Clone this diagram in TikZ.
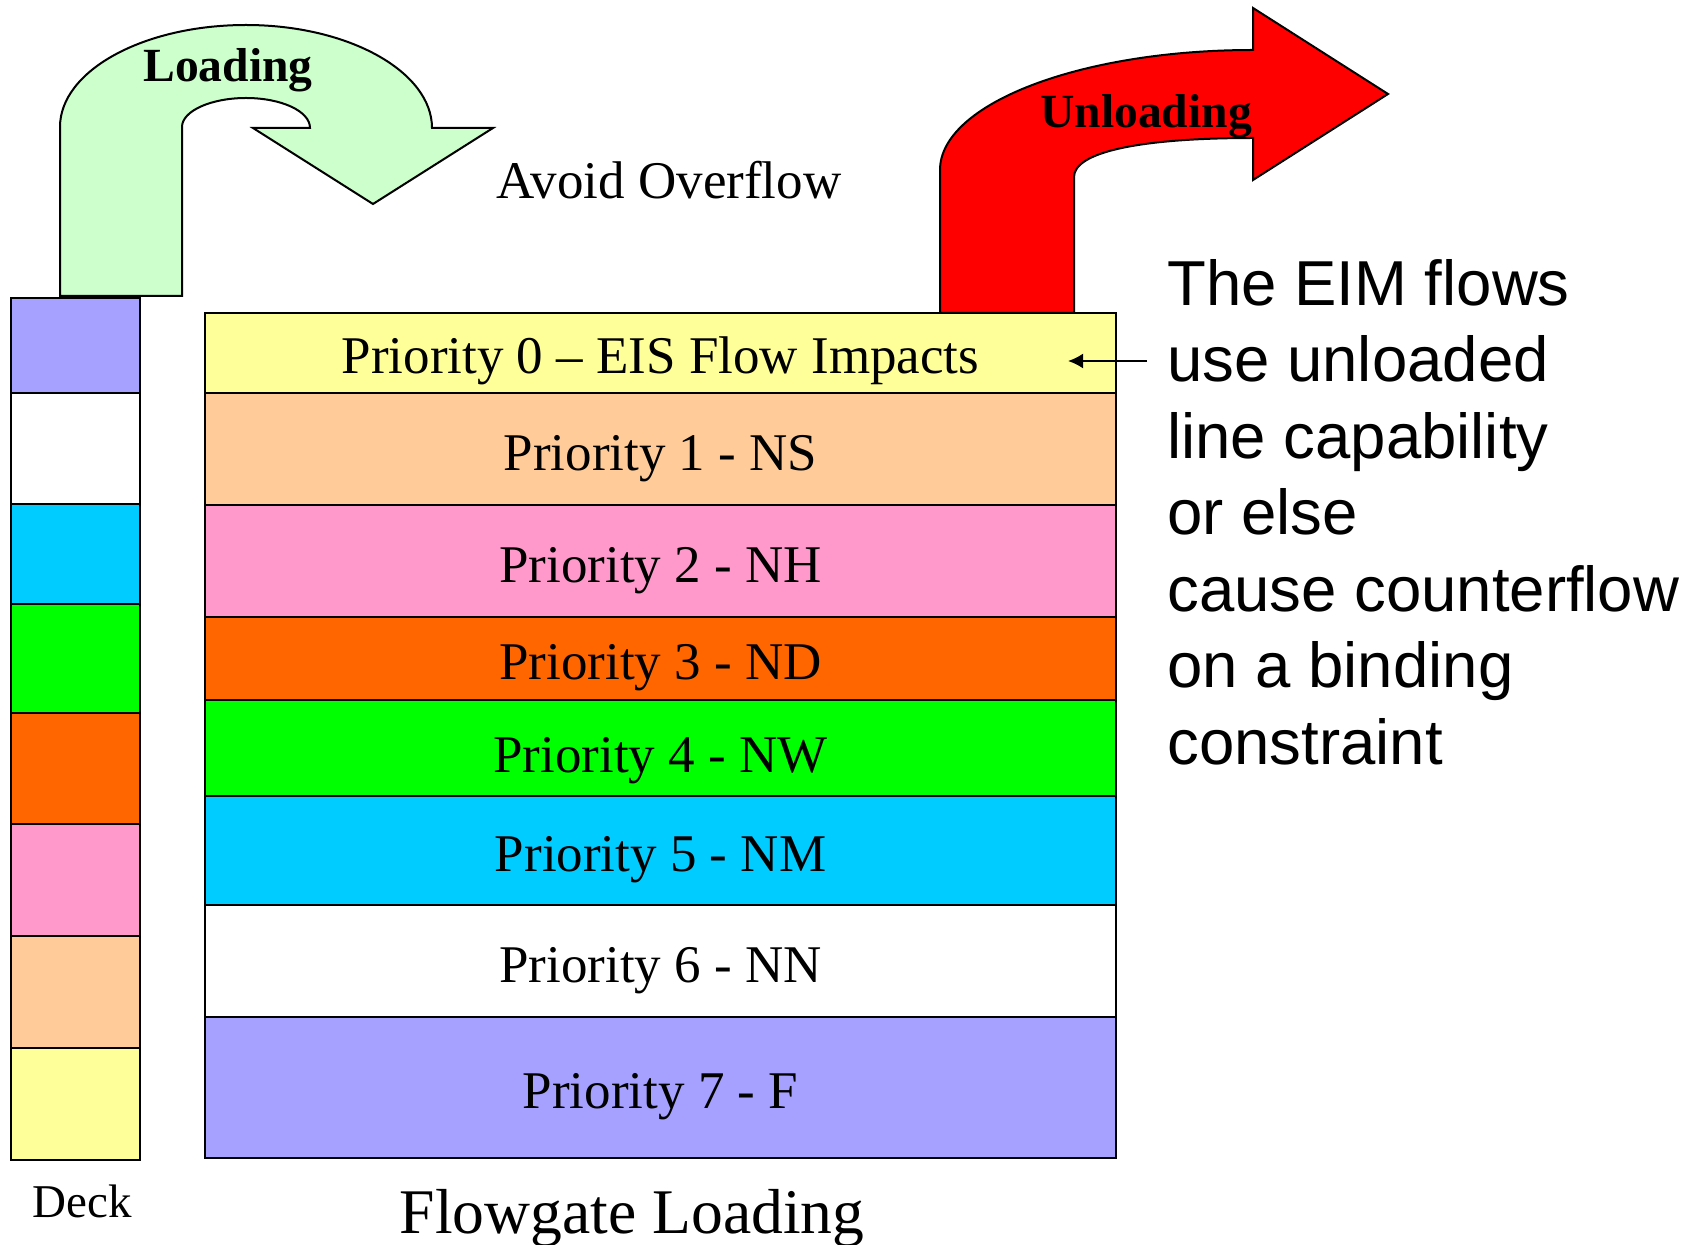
\documentclass[tikz,border=0pt]{standalone}
\usepackage{fontspec}
\setmainfont{Liberation Serif}
\newfontfamily\notefont{Liberation Sans}
\usetikzlibrary{positioning}
\usetikzlibrary{arrows.meta}

\definecolor{pyellow}{HTML}{FFFF99}
\definecolor{ppeach}{HTML}{FFCC99}
\definecolor{ppink}{HTML}{FF99CC}
\definecolor{porange}{HTML}{FF6600}
\definecolor{pgreen}{HTML}{00FF00}
\definecolor{pcyan}{HTML}{00CCFF}
\definecolor{plavender}{HTML}{A6A0FF}
\definecolor{loadgreen}{HTML}{CCFFCC}

\begin{document}
\begin{tikzpicture}[x=0.5pt, y=-0.5pt, >={Latex[length=7.5pt,width=7.5pt]},
  row/.style={draw, line width=1pt, minimum width=455.5pt, inner sep=0pt, outer sep=0pt, text height=21pt, text depth=0pt, font=\fontsize{26.5}{30}\selectfont},
  cell/.style={draw, line width=1pt, minimum width=64.5pt, inner sep=0pt, outer sep=0pt}]
\useasboundingbox (0,0) rectangle (1689,1245);

\draw[fill=loadgreen, line width=1pt] (60,296) -- (60,127) .. controls (60,71) and (143,25) .. (246,25) .. controls (349,25) and (432,72) .. (432,128) -- (493,128) -- (373,204) -- (253,128) -- (310,128) .. controls (310,111) and (281,98) .. (246,98) .. controls (211,98) and (182,111) .. (182,127) -- (182,296) -- cycle;
\draw[fill=red, line width=1pt] (940,313) -- (940,170) .. controls (940,104) and (1080,50) .. (1253,50) -- (1253,8) -- (1388,94) -- (1253,180) -- (1253,138) .. controls (1140,138) and (1074,152) .. (1074,177) -- (1074,313) -- cycle;

\node[name=p0, row, fill=pyellow, minimum height=40pt, anchor=north] at (660.5,313) {Priority 0 – EIS Flow Impacts};
\node[name=p1, row, fill=ppeach, minimum height=56pt, below=0pt of p0] {Priority 1 - NS};
\node[name=p2, row, fill=ppink, minimum height=56pt, below=0pt of p1] {Priority 2 - NH};
\node[name=p3, row, fill=porange, minimum height=41.5pt, below=0pt of p2] {Priority 3 - ND};
\node[name=p4, row, fill=pgreen, minimum height=48pt, below=0pt of p3, text height=24pt] {Priority 4 - NW};
\node[name=p5, row, fill=pcyan, minimum height=54.5pt, below=0pt of p4] {Priority 5 - NM};
\node[name=p6, row, fill=white, minimum height=56pt, below=0pt of p5] {Priority 6 - NN};
\node[name=p7, row, fill=plavender, minimum height=70.5pt, below=0pt of p6] {Priority 7 - F};

\node[name=d1, cell, fill=plavender, minimum height=47.5pt, anchor=north] at (75.5,298) {};
\node[name=d2, cell, fill=white, minimum height=55.5pt, below=0pt of d1] {};
\node[name=d3, cell, fill=pcyan, minimum height=50pt, below=0pt of d2] {};
\node[name=d4, cell, fill=pgreen, minimum height=54.5pt, below=0pt of d3] {};
\node[name=d5, cell, fill=porange, minimum height=55.5pt, below=0pt of d4] {};
\node[name=d6, cell, fill=ppink, minimum height=56pt, below=0pt of d5] {};
\node[name=d7, cell, fill=ppeach, minimum height=56pt, below=0pt of d6] {};
\node[name=d8, cell, fill=pyellow, minimum height=56pt, below=0pt of d7] {};

\node[name=deck, font=\fontsize{23.5}{28}\selectfont, anchor=base] at (82,1217) {Deck};
\node[name=flowgate, font=\fontsize{31.8}{38}\selectfont, anchor=base] at (632,1233) {Flowgate Loading};
\node[name=avoid, font=\fontsize{26.5}{30}\selectfont, anchor=base] at (669,199) {Avoid Overflow};
\node[name=loading, font=\bfseries\fontsize{23.8}{28}\selectfont, anchor=base] at (228,82) {Loading};
\node[name=unloading, font=\bfseries\fontsize{23.8}{28}\selectfont, anchor=base] at (1146,128) {Unloading};
\node[name=note, font=\notefont\fontsize{31.75}{38.25}\selectfont, align=left, anchor=north west, inner sep=0pt] at (1167,259) {The EIM flows\\use unloaded\\line capability\\or else\\cause counterflow\\on a binding\\constraint};

\coordinate (notetail) at (1147,361);
\coordinate (notetip) at (1068,361);
\draw[->, line width=1pt] (notetail) -- (notetip);
\end{tikzpicture}
\end{document}
